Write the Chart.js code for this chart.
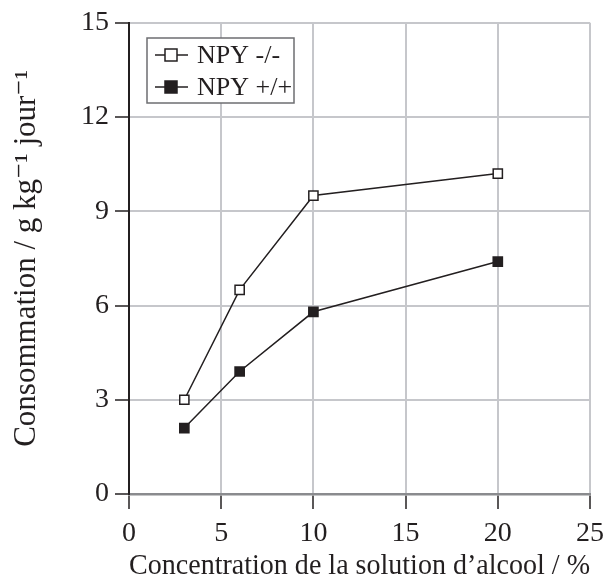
<!DOCTYPE html>
<html>
<head>
<meta charset="utf-8">
<script src="https://cdn.jsdelivr.net/npm/chart.js@4"></script>
<style>
  html, body { margin: 0; padding: 0; background: #fff; }
  #wrap { width: 612px; height: 584px; }
</style>
</head>
<body>
<div id="wrap"><canvas id="lineChart"></canvas></div>
<script>
var concentrations = [3, 6, 10, 20]
var knockout = [3.0, 6.5, 9.5, 10.2]
var wildType = [2.1, 3.9, 5.8, 7.4]
var seriesNames = ['NPY -/-', 'NPY +/+']

var ink = '#231f20'
var gridGray = '#c6c7cb'
var serif = "'Liberation Serif', 'DejaVu Serif', serif"

function toPoints(xs, ys) {
  return xs.map(function (x, i) { return { x: x, y: ys[i] } })
}

// legend drawn inside the plot, boxed, like the original
var boxLegend = {
  id: 'boxLegend',
  afterDraw: function (chart) {
    var ctx = chart.ctx
    var left = 147, top = 38, w = 147, h = 65
    ctx.save()
    ctx.fillStyle = '#fff'
    ctx.fillRect(left, top, w, h)
    ctx.strokeStyle = '#6d6e71'
    ctx.lineWidth = 1.5
    ctx.strokeRect(left, top, w, h)
    chart.data.datasets.forEach(function (ds, i) {
      var cy = top + 17 + i * 32
      ctx.strokeStyle = ds.borderColor
      ctx.lineWidth = 1.5
      ctx.beginPath()
      ctx.moveTo(155, cy)
      ctx.lineTo(188, cy)
      ctx.stroke()
      ctx.fillStyle = ds.pointBackgroundColor
      ctx.fillRect(165, cy - 6, 12, 12)
      ctx.strokeStyle = ds.pointBorderColor
      ctx.strokeRect(165, cy - 6, 12, 12)
      ctx.fillStyle = ink
      ctx.font = '26px ' + serif
      ctx.textBaseline = 'middle'
      ctx.fillText(ds.label, 197, cy + 1)
    })
    ctx.restore()
  }
}

new Chart(document.getElementById('lineChart').getContext('2d'), {
  type: 'line',
  data: {
    datasets: [
      {
        label: seriesNames[0],
        data: toPoints(concentrations, knockout),
        borderColor: ink,
        borderWidth: 1.5,
        pointStyle: 'rect',
        pointRadius: 6.5,
        pointBackgroundColor: '#fff',
        pointBorderColor: ink,
        pointBorderWidth: 1.5,
        tension: 0
      },
      {
        label: seriesNames[1],
        data: toPoints(concentrations, wildType),
        borderColor: ink,
        borderWidth: 1.5,
        pointStyle: 'rect',
        pointRadius: 6.5,
        pointBackgroundColor: ink,
        pointBorderColor: ink,
        pointBorderWidth: 1.5,
        tension: 0
      }
    ]
  },
  options: {
    responsive: true,
    maintainAspectRatio: false,
    animation: false,
    layout: { padding: { top: 22, right: 19, left: 0, bottom: 0 } },
    plugins: {
      legend: { display: false },
      tooltip: { enabled: false }
    },
    scales: {
      x: {
        type: 'linear',
        min: 0,
        max: 25,
        afterFit: function (s) { s.height = 90 },
        ticks: {
          stepSize: 5,
          color: ink,
          padding: 8,
          font: { family: serif, size: 28 }
        },
        grid: {
          color: gridGray,
          lineWidth: 2,
          tickColor: ink,
          tickLength: 15,
          tickWidth: 1.5
        },
        border: { color: '#8a8b8e', width: 2.5 },
        title: {
          display: true,
          text: 'Concentration de la solution d\u2019alcool / %',
          color: ink,
          font: { family: serif, size: 29 },
          padding: { top: 0, bottom: 0 }
        }
      },
      y: {
        min: 0,
        max: 15,
        afterFit: function (s) { s.width = 129 },
        ticks: {
          stepSize: 3,
          color: ink,
          padding: 6,
          font: { family: serif, size: 28 }
        },
        grid: {
          color: gridGray,
          lineWidth: 2,
          tickColor: ink,
          tickLength: 14,
          tickWidth: 1.5
        },
        border: { color: ink, width: 2 },
        title: {
          display: true,
          text: 'Consommation / g kg\u207b\u00b9 jour\u207b\u00b9',
          color: ink,
          font: { family: serif, size: 31 },
          padding: { top: 8, bottom: 0 }
        }
      }
    }
  },
  plugins: [boxLegend]
})
</script>
</body>
</html>
